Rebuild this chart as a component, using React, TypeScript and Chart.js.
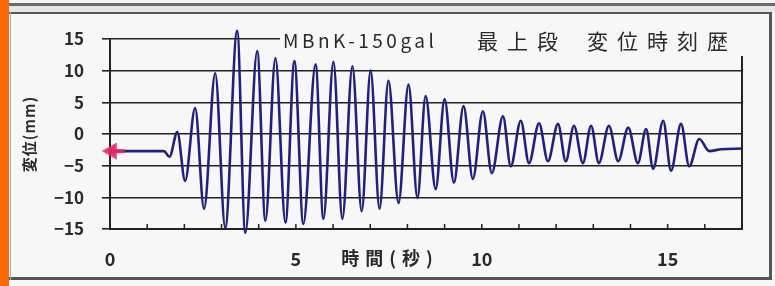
import React, { useEffect, useRef } from "react";
import { Chart, registerables } from "chart.js";

Chart.register(...registerables);

// ---- text ----
const titleLatin = "MBnK-150gal";
const titleCjk1 = "最上段";
const titleCjk2 = "変位時刻歴";
const xAxisTitle = "時間(秒)";
const yAxisTitle = "変位(mm)";

// ---- ticks ----
const xTickValues = [0, 5, 10, 15];
const xTickLabels = ["0", "5", "10", "15"];
const yTickValues = [-15, -10, -5, 0, 5, 10, 15];
const yTickLabels = ["−15", "−10", "−5", "0", "5", "10", "15"];

// ---- displacement series (time in s, displacement in mm) ----
const timeSec = [
  0, 1.3, 1.45, 1.6, 1.81, 2.02, 2.29, 2.53, 2.83, 3.1, 3.42, 3.64, 3.96,
  4.18, 4.45, 4.72, 4.96, 5.2, 5.53, 5.74, 6.01, 6.25, 6.52, 6.77, 7.01,
  7.25, 7.49, 7.76, 8.03, 8.27, 8.49, 8.76, 9.0, 9.25, 9.51, 9.76, 10.03,
  10.27, 10.57, 10.78, 11.05, 11.27, 11.54, 11.78, 12.05, 12.26, 12.48,
  12.72, 12.94, 13.15, 13.42, 13.67, 13.94, 14.2, 14.42, 14.61, 14.88,
  15.09, 15.36, 15.58, 15.85, 16.12, 16.44, 17.0,
];
const dispMm = [
  -2.7, -2.7, -2.7, -3.6, 0.3, -7.4, 4.1, -11.8, 9.6, -14.8, 16.3, -15.6, 13.1,
  -13.7, 12.0, -14.0, 11.5, -14.2, 11.0, -13.4, 11.4, -13.4, 10.7, -12.2, 10.0,
  -11.8, 8.4, -10.9, 7.8, -10.1, 6.0, -8.7, 5.5, -7.7, 4.4, -7.1, 3.6,
  -6.2, 2.8, -5.1, 2.1, -4.6, 1.7, -4.3, 1.6, -4.3, 1.3,
  -4.6, 1.3, -4.6, 1.3, -4.3, 1.0, -4.6, 0.8, -5.5, 2.1,
  -5.8, 1.6, -5.1, -0.8, -2.7, -2.4, -2.3,
];

// ---- red start marker series ----
const markTime = [0.05, 0.4];
const markDisp = [-2.7, -2.7];

const BG = "#f7f7f7";
const FONT = "'Noto Sans CJK JP', 'Noto Sans', sans-serif";

const overlayPlugin = {
  id: "overlay",
  afterDatasetsDraw(chart: any) {
    const { ctx, chartArea: ca, scales } = chart;
    const xs = scales.x;
    ctx.save();
    // right frame line
    ctx.strokeStyle = "#222";
    ctx.lineWidth = 2;
    ctx.beginPath();
    ctx.moveTo(ca.right, ca.top);
    ctx.lineTo(ca.right, ca.bottom + 1);
    ctx.stroke();
    // inner minor ticks every second
    ctx.lineWidth = 1.5;
    for (let t = 1; t < 17; t++) {
      const px = xs.getPixelForValue(t);
      ctx.beginPath();
      ctx.moveTo(px, ca.bottom);
      ctx.lineTo(px, ca.bottom - 5);
      ctx.stroke();
    }
    // legend / title box
    const boxLeft = ca.left + 170;
    ctx.fillStyle = BG;
    ctx.fillRect(boxLeft, ca.top - 12, ca.right + 4 - boxLeft, 29);

    ctx.fillStyle = "#2a2a2a";
    ctx.textBaseline = "middle";
    ctx.textAlign = "left";
    const ty = ca.top + 2;
    ctx.font = `19px ${FONT}`;
    (ctx as any).letterSpacing = "3.5px";
    ctx.fillText(titleLatin, boxLeft + 3, ty);
    ctx.font = `21px ${FONT}`;
    (ctx as any).letterSpacing = "9px";
    ctx.fillText(titleCjk1, boxLeft + 197, ty);
    ctx.fillText(titleCjk2, boxLeft + 307, ty);

    // x axis title (inline with tick labels)
    ctx.font = `bold 18px ${FONT}`;
    (ctx as any).letterSpacing = "6px";
    ctx.textAlign = "center";
    ctx.fillText(xAxisTitle, ca.left + 280, ca.bottom + 29);

    // y axis title
    ctx.font = `bold 15px ${FONT}`;
    (ctx as any).letterSpacing = "1px";
    ctx.translate(29, (ca.top + ca.bottom) / 2);
    ctx.rotate(-Math.PI / 2);
    ctx.fillText(yAxisTitle, 0, 0);
    ctx.restore();
  },
};

export default function App() {
  const ref = useRef<HTMLCanvasElement | null>(null);

  useEffect(() => {
    if (!ref.current) return;
    const dispData = timeSec.map((t, i) => ({ x: t, y: dispMm[i] }));
    const markData = markTime.map((t, i) => ({ x: t, y: markDisp[i] }));
    const chart = new Chart(ref.current, {
      type: "line",
      data: {
        datasets: [
          {
            label: "disp",
            data: dispData,
            borderColor: "#20207f",
            borderWidth: 2.6,
            pointRadius: 0,
            cubicInterpolationMode: "monotone",
            clip: false as any,
            order: 2,
          },
          {
            label: "mark",
            data: markData,
            borderColor: "rgba(230,40,100,0.85)",
            backgroundColor: "rgba(230,40,100,0.85)",
            borderWidth: 4,
            pointRadius: [6, 0],
            pointStyle: "triangle",
            rotation: -90,
            clip: false as any,
            order: 1,
          },
        ],
      },
      options: {
        animation: false,
        responsive: false,
        devicePixelRatio: 1,
        layout: { padding: { left: 0, top: 39, right: 33, bottom: 0 } },
        plugins: {
          legend: { display: false },
          tooltip: { enabled: false },
          title: { display: false },
        },
        scales: {
          x: {
            type: "linear",
            min: 0,
            max: 17,
            afterFit: (s: any) => {
              s.height = 57;
            },
            afterBuildTicks: (s: any) => {
              s.ticks = xTickValues.map((v) => ({ value: v }));
            },
            grid: { display: false, drawTicks: false },
            border: { display: true, color: "#222", width: 2 },
            ticks: {
              padding: 19,
              color: "#2a2a2a",
              font: { family: FONT, size: 18, weight: "bold" },
              maxRotation: 0,
              autoSkip: false,
              callback: (v: any) => {
                const i = xTickValues.indexOf(Number(v));
                return i >= 0 ? xTickLabels[i] : "";
              },
            },
          },
          y: {
            type: "linear",
            min: -15,
            max: 15,
            afterFit: (s: any) => {
              s.width = 110;
            },
            afterBuildTicks: (s: any) => {
              s.ticks = yTickValues.map((v) => ({ value: v }));
            },
            grid: { color: "#222", lineWidth: 1.6, tickLength: 8, drawTicks: true },
            border: { display: true, color: "#222", width: 2 },
            ticks: {
              padding: 18,
              color: "#2a2a2a",
              font: { family: FONT, size: 17, weight: "bold" },
              autoSkip: false,
              callback: (v: any) => {
                const i = yTickValues.indexOf(Number(v));
                return i >= 0 ? yTickLabels[i] : "";
              },
            },
          },
        },
      },
      plugins: [overlayPlugin],
    });
    return () => chart.destroy();
  }, []);

  const line = (style: React.CSSProperties) => (
    <div style={{ position: "absolute", background: "#555", ...style }} />
  );

  return (
    <div
      style={{
        position: "fixed",
        left: 0,
        top: 0,
        width: 775,
        height: 286,
        background: BG,
        overflow: "hidden",
      }}
    >
      <div style={{ position: "absolute", left: 0, top: 0, width: 9, height: 286, background: "#ff6600" }} />
      {line({ left: 9, top: 3, width: 766, height: 3, background: "#6a6a6a" })}
      {line({ left: 9, top: 6, width: 766, height: 6, background: "#e6e6e6" })}
      {line({ left: 9, top: 12, width: 762, height: 2 })}
      {line({ left: 9, top: 277, width: 762, height: 3 })}
      {line({ left: 769, top: 12, width: 3, height: 268 })}
      {line({ left: 10, top: 12, width: 1, height: 268, background: "#aaa" })}
      <canvas
        ref={ref}
        width={775}
        height={286}
        style={{ position: "absolute", left: 0, top: 0, width: 775, height: 286 }}
      />
    </div>
  );
}
